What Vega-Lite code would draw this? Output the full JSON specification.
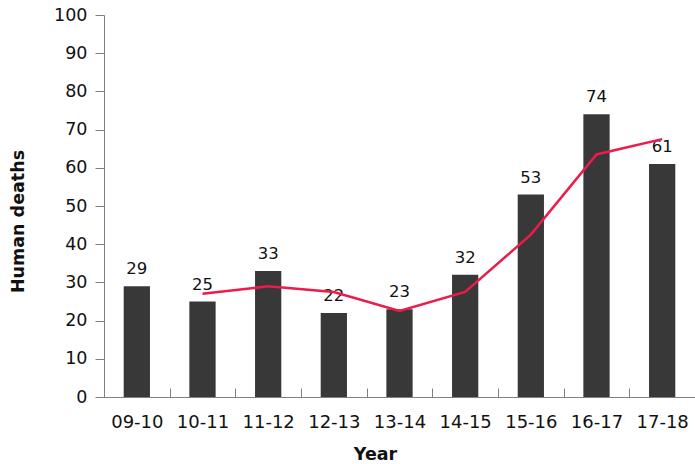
{
  "$schema": "https://vega.github.io/schema/vega-lite/v6.json",
  "width": 591,
  "height": 382,
  "autosize": {"type": "none"},
  "padding": {"left": 104, "top": 15, "right": 0, "bottom": 67},
  "background": "white",
  "config": {
    "view": {"stroke": null},
    "font": "DejaVu Sans",
    "axis": {"grid": false, "domainColor": "#808080", "tickColor": "#808080", "labelColor": "#111", "titleColor": "#111", "titleFontWeight": "bold", "titleFontSize": 17.5, "labelFont": "DejaVu Sans", "titleFont": "DejaVu Sans", "labelOverlap": false}
  },
  "datasets": {
    "bars": [
      {"year": "09-10", "deaths": 29},
      {"year": "10-11", "deaths": 25},
      {"year": "11-12", "deaths": 33},
      {"year": "12-13", "deaths": 22},
      {"year": "13-14", "deaths": 23},
      {"year": "14-15", "deaths": 32},
      {"year": "15-16", "deaths": 53},
      {"year": "16-17", "deaths": 74},
      {"year": "17-18", "deaths": 61}
    ],
    "trend": [
      {"year": "10-11", "deaths": 27},
      {"year": "11-12", "deaths": 29},
      {"year": "12-13", "deaths": 27.5},
      {"year": "13-14", "deaths": 22.5},
      {"year": "14-15", "deaths": 27.5},
      {"year": "15-16", "deaths": 42.5},
      {"year": "16-17", "deaths": 63.5},
      {"year": "17-18", "deaths": 67.5}
    ]
  },
  "encoding": {
    "x": {
      "field": "year", "type": "ordinal",
      "sort": ["09-10","10-11","11-12","12-13","13-14","14-15","15-16","16-17","17-18"],
      "scale": {"paddingInner": 0, "paddingOuter": 0},
      "axis": {"title": "Year", "labelAngle": 0, "labelFontSize": 18, "labelBaseline": "alphabetic", "labelPadding": 39, "ticks": true, "tickBand": "extent", "tickSize": -9, "tickWidth": 1, "titleX": 271, "titleY": 62, "titleBaseline": "alphabetic"}
    },
    "y": {"field": "deaths", "type": "quantitative", "scale": {"domain": [0, 100]},
      "axis": {"title": "Human deaths", "values": [0,10,20,30,40,50,60,70,80,90,100], "labelOverlap": false, "labelFontSize": 17.5, "tickSize": 9, "labelPadding": 8, "titlePadding": 26, "titleY": 206}}
  },
  "layer": [
    {
      "data": {"name": "bars"},
      "mark": {"type": "bar", "color": "#383838", "width": {"band": 0.4}}
    },
    {
      "data": {"name": "bars"},
      "mark": {"type": "text", "baseline": "alphabetic", "dy": -12, "fontSize": 16.5, "color": "#111"},
      "encoding": {
        "text": {"field": "deaths", "type": "quantitative"}
      }
    },
    {
      "data": {"name": "trend"},
      "mark": {"type": "line", "color": "#ee1a4c", "strokeWidth": 2.5},
      "encoding": {}
    }
  ]
}
